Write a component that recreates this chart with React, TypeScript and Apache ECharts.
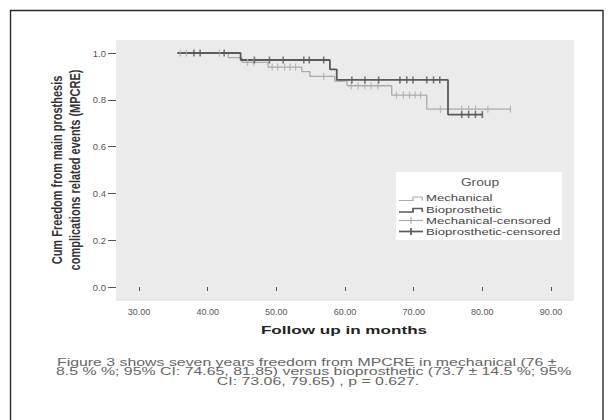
import React, { useEffect, useRef } from "react";
import * as echarts from "echarts";

// Kaplan-Meier step points: time (months) and cumulative freedom after the step
const mechanicalTimes = [35.6, 43.0, 45.0, 48.8, 53.7, 54.9, 58.5, 60.3, 66.8, 71.9, 84.1];
const mechanicalSurvival = [1.0, 0.98, 0.96, 0.94, 0.92, 0.9, 0.88, 0.86, 0.82, 0.76, 0.76];
const bioTimes = [35.6, 44.8, 57.8, 58.8, 75.0, 80.1];
const bioSurvival = [1.0, 0.97, 0.93, 0.885, 0.737, 0.737];

// Censored observations (months)
const mechanicalCensored = [
  36.0, 36.9, 41.7, 45.8, 46.7, 49.4, 50.2, 51.2, 52.0, 52.8, 56.9, 60.9, 61.9, 62.9, 63.8, 64.8,
  67.5, 68.5, 69.4, 70.2, 71.0, 73.9, 77.0, 78.0, 79.0, 80.8, 84.1,
];
const bioCensored = [
  38.0, 38.9, 42.4, 46.8, 49.0, 51.0, 54.0, 54.8, 56.9, 61.0, 62.9, 64.9, 68.0, 69.0, 69.9, 71.9,
  72.9, 73.8, 77.0, 78.0, 79.0, 80.0,
];

const xTicks = [30, 40, 50, 60, 70, 80, 90];
const yTicks = [0, 0.2, 0.4, 0.6, 0.8, 1.0];

const legendItems = ["Mechanical", "Bioprosthetic", "Mechanical-censored", "Bioprosthetic-censored"];
const yTitleLines = ["Cum Freedom from main prosthesis", "complications related events (MPCRE)"];
const xTitle = "Follow up in months";
const captionLines = [
  "Figure 3 shows seven years freedom from MPCRE in mechanical (76 \u00b1",
  "8.5 % %; 95% CI: 74.65, 81.85) versus bioprosthetic (73.7 \u00b1 14.5 %; 95%",
  "CI: 73.06, 79.65) , p = 0.627.",
];

const FONT = "'Liberation Sans', Arial, Helvetica, sans-serif";
const LIGHT = "#ababab";
const DARK = "#5a5a5a";

function survivalAt(times: number[], surv: number[], t: number): number {
  let s = surv[0];
  for (let i = 0; i < times.length; i++) {
    if (times[i] <= t) s = surv[i];
  }
  return s;
}

function stepData(times: number[], surv: number[]) {
  return times.map((t, i) => [t, surv[i]]);
}

function censorData(times: number[], surv: number[], censored: number[]) {
  return censored.map((t) => [t, survivalAt(times, surv, t)]);
}

function legendGraphic() {
  const left = 396;
  const top = 172;
  const rowY = [198, 209.5, 220.5, 231.5];
  const children: any[] = [
    { type: "rect", shape: { x: left, y: top, width: 166, height: 68 }, style: { fill: "#ffffff" } },
    {
      type: "text",
      x: 480,
      y: 182.5,
      scaleX: 1.25,
      style: {
        text: "Group",
        x: 0,
        y: 0,
        align: "center",
        verticalAlign: "middle",
        textAlign: "center",
        textVerticalAlign: "middle",
        fontSize: 11,
        fontFamily: FONT,
        fill: "#555555",
      },
    },
  ];
  legendItems.forEach((name, i) => {
    const y = rowY[i];
    const color = i % 2 === 0 ? LIGHT : DARK;
    const w = i % 2 === 0 ? 1.2 : 1.7;
    if (i < 2) {
      children.push({
        type: "polyline",
        shape: {
          points: [
            [399, y + 2.5],
            [413, y + 2.5],
            [413, y - 1],
            [422, y - 1],
            [422.5, y + 2.5],
          ],
        },
        style: { stroke: color, lineWidth: w, fill: "none" },
      });
    } else {
      children.push({
        type: "line",
        shape: { x1: 399, y1: y, x2: 423, y2: y },
        style: { stroke: color, lineWidth: w },
      });
      children.push({
        type: "line",
        shape: { x1: 411, y1: y - 3.5, x2: 411, y2: y + 3.5 },
        style: { stroke: color, lineWidth: w },
      });
    }
    children.push({
      type: "text",
      x: 426,
      y: y,
      scaleX: 1.34,
      style: {
        text: name,
        x: 0,
        y: 0,
        align: "left",
        verticalAlign: "middle",
        textAlign: "left",
        textVerticalAlign: "middle",
        fontSize: 9.8,
        fontFamily: FONT,
        fill: "#444444",
      },
    });
  });
  return { type: "group", z: 50, children };
}

// caption rows: the two full rows start at the left margin, the last row is centred
const captionAnchors = [
  { x: 57, align: "left" },
  { x: 56, align: "left" },
  { x: 318, align: "center" },
];

export default function App() {
  const ref = useRef<HTMLDivElement>(null);

  useEffect(() => {
    if (!ref.current) return;
    const chart = echarts.init(ref.current, undefined, { renderer: "svg" });

    const graphic: any[] = [
      // outer frame
      {
        type: "rect",
        z: 60,
        shape: { x: 10.5, y: 10.5, width: 592.5, height: 440 },
        style: { fill: "none", stroke: "#2a2a2a", lineWidth: 1.4 },
      },
      // plot panel
      {
        type: "rect",
        z: -5,
        shape: { x: 116, y: 40, width: 458, height: 260 },
        style: { fill: "#ebebeb" },
      },
      {
        type: "line",
        z: -4,
        shape: { x1: 116, y1: 300, x2: 574, y2: 300 },
        style: { stroke: "#d4d9de", lineWidth: 1 },
      },
      ...yTitleLines.map((line, i) => ({
        type: "text",
        z: 50,
        x: i === 0 ? 57 : 75,
        y: 170,
        rotation: Math.PI / 2,
        scaleY: 1.35,
        style: {
          text: line,
          x: 0,
          y: 0,
          align: "center",
          verticalAlign: "middle",
          textAlign: "center",
          textVerticalAlign: "middle",
          fontSize: 11,
          fontWeight: "bold",
          fontFamily: FONT,
          fill: "#333333",
        },
      })),
      {
        type: "text",
        z: 50,
        x: 344,
        y: 330,
        scaleX: 1.45,
        style: {
          text: xTitle,
          x: 0,
          y: 0,
          align: "center",
          verticalAlign: "middle",
          textAlign: "center",
          textVerticalAlign: "middle",
          fontSize: 11.8,
          fontWeight: "bold",
          fontFamily: FONT,
          fill: "#222222",
        },
      },
      ...captionLines.map((line, i) => ({
        type: "text",
        z: 50,
        x: captionAnchors[i].x,
        y: 361.5 + i * 9.8,
        scaleX: 1.38,
        style: {
          text: line,
          x: 0,
          y: 0,
          align: captionAnchors[i].align,
          verticalAlign: "middle",
          textAlign: captionAnchors[i].align,
          textVerticalAlign: "middle",
          fontSize: 11.5,
          fontFamily: FONT,
          fill: "#666666",
        },
      })),
      legendGraphic(),
    ];

    chart.setOption({
      animation: false,
      backgroundColor: "#ffffff",
      textStyle: { fontFamily: FONT },
      grid: { left: 139, right: 60, top: 53, bottom: 133, containLabel: false },
      xAxis: {
        type: "value",
        min: xTicks[0],
        max: xTicks[xTicks.length - 1],
        interval: 10,
        offset: 13,
        axisLine: { show: false },
        axisTick: { show: true, length: 4, lineStyle: { color: "#555555", width: 1 } },
        axisLabel: {
          formatter: (v: number) => v.toFixed(2),
          fontSize: 9,
          color: "#555555",
          margin: 7,
          fontFamily: FONT,
        },
        splitLine: { show: false },
      },
      yAxis: {
        type: "value",
        min: yTicks[0],
        max: yTicks[yTicks.length - 1],
        interval: 0.2,
        offset: 23,
        axisLine: { show: false },
        axisTick: { show: true, length: 8, lineStyle: { color: "#555555", width: 1 } },
        axisLabel: {
          formatter: (v: number) => v.toFixed(1),
          fontSize: 9.5,
          color: "#555555",
          margin: 10,
          fontFamily: FONT,
        },
        splitLine: { show: false },
      },
      graphic,
      series: [
        {
          type: "line",
          name: "Mechanical",
          step: "end",
          data: stepData(mechanicalTimes, mechanicalSurvival),
          symbol: "none",
          clip: false,
          silent: true,
          z: 3,
          lineStyle: { color: LIGHT, width: 1.3 },
        },
        {
          type: "line",
          name: "Bioprosthetic",
          step: "end",
          data: stepData(bioTimes, bioSurvival),
          symbol: "none",
          clip: false,
          silent: true,
          z: 4,
          lineStyle: { color: DARK, width: 1.8 },
        },
        {
          type: "scatter",
          name: "Mechanical-censored",
          data: censorData(mechanicalTimes, mechanicalSurvival, mechanicalCensored),
          symbol: "rect",
          symbolSize: [1.2, 7],
          silent: true,
          z: 5,
          itemStyle: { color: LIGHT },
        },
        {
          type: "scatter",
          name: "Bioprosthetic-censored",
          data: censorData(bioTimes, bioSurvival, bioCensored),
          symbol: "rect",
          symbolSize: [1.6, 7],
          silent: true,
          z: 6,
          itemStyle: { color: DARK },
        },
      ],
    });

    return () => chart.dispose();
  }, []);

  return (
    <div
      ref={ref}
      style={{ position: "absolute", left: 0, top: 0, width: 611, height: 420, background: "#fff" }}
    />
  );
}
